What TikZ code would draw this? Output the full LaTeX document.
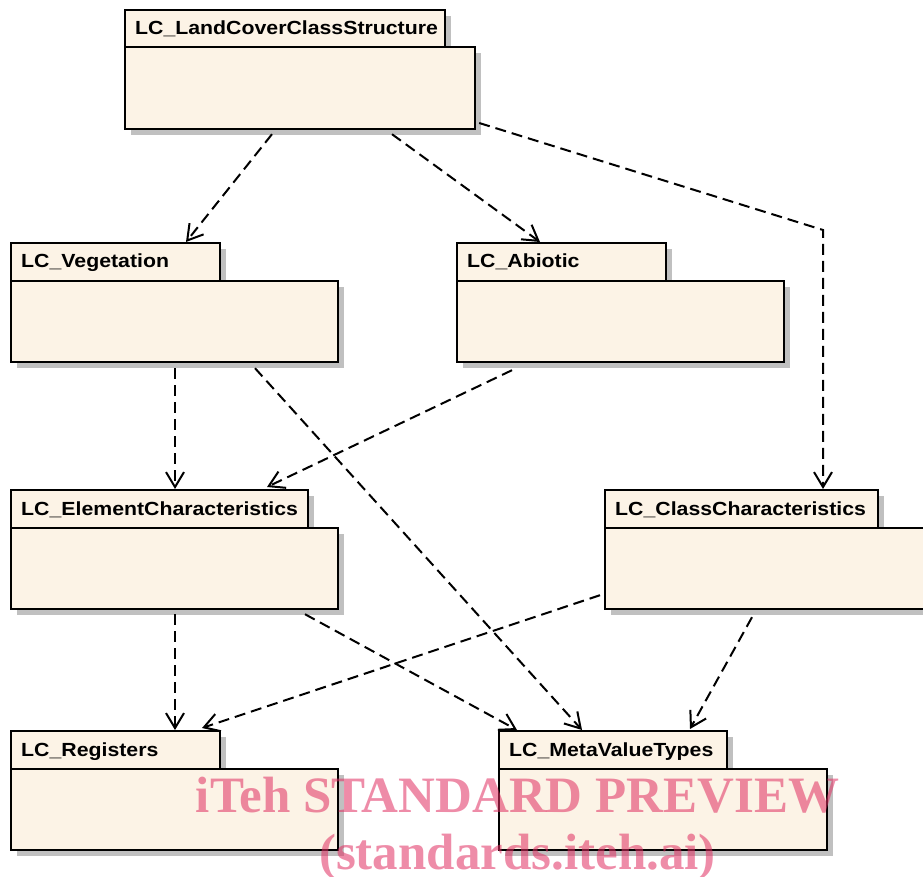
\documentclass[tikz,border=0pt]{standalone}
\usepackage{fontspec}
\usetikzlibrary{arrows.meta,calc,shadows}
\newfontfamily\lblfont{Liberation Sans}[FakeStretch=1.12]
\newfontfamily\wmfont{Liberation Serif}
\definecolor{pkgfill}{RGB}{252,243,230}
\definecolor{shadowgray}{RGB}{192,192,192}
\definecolor{wmpink}{RGB}{224,46,97}
\tikzset{
  pkgshape/.style={draw=black, line width=2.2pt, fill=pkgfill, inner sep=0pt, anchor=north west,
    drop shadow={shadow xshift=6pt, shadow yshift=-6pt, fill=shadowgray, opacity=1}},
  pkglabel/.style={anchor=base west, inner sep=0pt, font=\lblfont\bfseries\fontsize{19}{22}\selectfont},
  dep/.style={line width=2pt, dash pattern=on 11pt off 6pt, -{Straight Barb[length=15pt,width=18pt,line width=2pt]}},
  wm/.style={anchor=base, inner sep=0pt, text=wmpink, opacity=0.55, font=\wmfont\bfseries\fontsize{51}{55}\selectfont}
}
\begin{document}
\begin{tikzpicture}[x=1pt,y=-1pt]
\useasboundingbox (0,0) rectangle (923,877);
% packages: tab + body
\node[pkgshape, minimum width=320pt, minimum height=37pt] (lccstab) at (124,9) {};
\node[pkgshape, minimum width=350pt, minimum height=82pt] (lccs) at (124,46) {};
\node[pkglabel] (lccsl) at (135,35) {LC\_LandCoverClassStructure};

\node[pkgshape, minimum width=209pt, minimum height=38pt] (vegtab) at (10,242) {};
\node[pkgshape, minimum width=327pt, minimum height=81pt] (veg) at (10,280) {};
\node[pkglabel] (vegl) at (21,268) {LC\_Vegetation};

\node[pkgshape, minimum width=209pt, minimum height=38pt] (abtab) at (456,242) {};
\node[pkgshape, minimum width=327pt, minimum height=81pt] (ab) at (456,280) {};
\node[pkglabel] (abl) at (467,268) {LC\_Abiotic};

\node[pkgshape, minimum width=297pt, minimum height=38pt] (eltab) at (10,489) {};
\node[pkgshape, minimum width=327pt, minimum height=81pt] (el) at (10,527) {};
\node[pkglabel] (ell) at (21,515) {LC\_ElementCharacteristics};

\node[pkgshape, minimum width=273pt, minimum height=38pt] (cctab) at (604,489) {};
\node[pkgshape, minimum width=331pt, minimum height=81pt] (cc) at (604,527) {};
\node[pkglabel] (ccl) at (615,515) {LC\_ClassCharacteristics};

\node[pkgshape, minimum width=209pt, minimum height=38pt] (regtab) at (10,730) {};
\node[pkgshape, minimum width=327pt, minimum height=81pt] (reg) at (10,768) {};
\node[pkglabel] (regl) at (21,756) {LC\_Registers};

\node[pkgshape, minimum width=228pt, minimum height=38pt] (mvttab) at (498,730) {};
\node[pkgshape, minimum width=328pt, minimum height=81pt] (mvt) at (498,768) {};
\node[pkglabel] (mvtl) at (509,756) {LC\_MetaValueTypes};

% dependencies
\coordinate (bend) at (823,230);
\draw[dep] ($(lccs.south west)+(148,4)$) -- ($(vegtab.north west)+(176,0)$);
\draw[dep] ($(lccs.south west)+(268,4)$) -- ($(abtab.north west)+(84,0)$);
\draw[dep] ($(lccs.north east)+(3,77)$) -- (bend) -- ($(cctab.north west)+(219,0)$);
\draw[dep] ($(veg.south west)+(165,5)$) -- ($(eltab.north west)+(165,0)$);
\draw[dep] ($(ab.south west)+(56,7)$) -- ($(eltab.north west)+(257,-2)$);
\draw[dep] ($(veg.south west)+(245,5)$) -- ($(mvttab.north west)+(84,0)$);
\draw[dep] ($(el.south west)+(165,4)$) -- ($(regtab.north west)+(165,0)$);
\draw[dep] ($(el.south west)+(295,4)$) -- ($(mvttab.north west)+(19,0)$);
\draw[dep] ($(cc.south west)+(-4,-15)$) -- ($(regtab.north west)+(192,-2)$);
\draw[dep] ($(cc.south west)+(148,7)$) -- ($(mvttab.north west)+(192,-1)$);

% watermark
\node[wm] (wm1) at (517.5,812) {iTeh STANDARD PREVIEW};
\node[wm] (wm2) at (517.5,869) {(standards.iteh.ai)};
\end{tikzpicture}
\end{document}
